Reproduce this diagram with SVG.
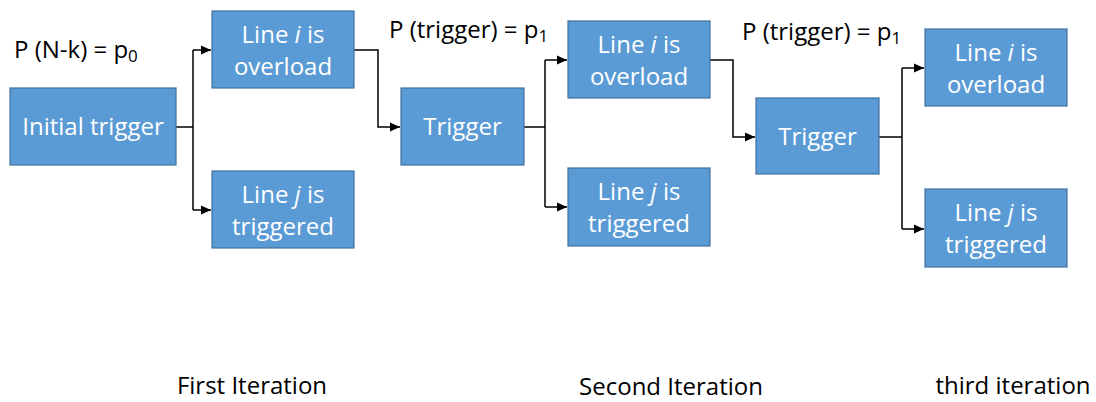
<svg xmlns="http://www.w3.org/2000/svg" width="1096" height="402" viewBox="0 0 1096 402">
<style>
.box{fill:#5B9BD5;stroke:#41719C;stroke-width:1.2}
.bt{font-family:"Open Sans","Liberation Sans",sans-serif;font-size:24px;fill:#fff;text-anchor:middle}
.lbl{font-family:"Open Sans","Liberation Sans",sans-serif;font-size:24px;fill:#000}
.c{fill:none;stroke:#000;stroke-width:1.5}
</style>
<defs>
<marker id="ah" markerWidth="11" markerHeight="11" refX="10" refY="5.5" orient="auto" markerUnits="userSpaceOnUse">
<path d="M0,1 L10,5.5 L0,10 Z" fill="#000"/>
</marker>
</defs>
<rect width="1096" height="402" fill="#fff"/>
<g id="connectors">
<path class="c" d="M176,127 H193"/>
<path class="c" d="M193,50 V210"/>
<path class="c" d="M193,50 H211" marker-end="url(#ah)"/>
<path class="c" d="M193,210 H211" marker-end="url(#ah)"/>
<path class="c" d="M354,50 H378 V127 H400" marker-end="url(#ah)"/>
<path class="c" d="M524,127 H545"/>
<path class="c" d="M545,60 V207"/>
<path class="c" d="M545,60 H567" marker-end="url(#ah)"/>
<path class="c" d="M545,207 H567" marker-end="url(#ah)"/>
<path class="c" d="M710,60 H733 V137 H755" marker-end="url(#ah)"/>
<path class="c" d="M879,137 H902"/>
<path class="c" d="M902,68 V229"/>
<path class="c" d="M902,68 H924" marker-end="url(#ah)"/>
<path class="c" d="M902,229 H924" marker-end="url(#ah)"/>
</g>
<g id="initial">
<rect class="box" x="10" y="88" width="166" height="77"/>
<text class="bt" x="93" y="135">Initial trigger</text>
</g>
<g id="line-i-1">
<rect class="box" x="212" y="11" width="142" height="77"/>
<text class="bt" x="283" y="43">Line <tspan font-style="italic">i</tspan> is</text>
<text class="bt" x="283" y="75">overload</text>
</g>
<g id="line-j-1">
<rect class="box" x="212" y="171" width="142" height="77"/>
<text class="bt" x="283" y="203">Line <tspan font-style="italic">j</tspan> is</text>
<text class="bt" x="283" y="235">triggered</text>
</g>
<g id="trigger-2">
<rect class="box" x="401" y="88" width="123" height="77"/>
<text class="bt" x="462.5" y="135">Trigger</text>
</g>
<g id="line-i-2">
<rect class="box" x="568" y="21" width="142" height="77"/>
<text class="bt" x="639" y="53">Line <tspan font-style="italic">i</tspan> is</text>
<text class="bt" x="639" y="85">overload</text>
</g>
<g id="line-j-2">
<rect class="box" x="568" y="168" width="142" height="78"/>
<text class="bt" x="639" y="200">Line <tspan font-style="italic">j</tspan> is</text>
<text class="bt" x="639" y="232">triggered</text>
</g>
<g id="trigger-3">
<rect class="box" x="756" y="98" width="123" height="76"/>
<text class="bt" x="817.5" y="145">Trigger</text>
</g>
<g id="line-i-3">
<rect class="box" x="925" y="29" width="142" height="77"/>
<text class="bt" x="996" y="61">Line <tspan font-style="italic">i</tspan> is</text>
<text class="bt" x="996" y="93">overload</text>
</g>
<g id="line-j-3">
<rect class="box" x="925" y="189" width="142" height="78"/>
<text class="bt" x="996" y="221">Line <tspan font-style="italic">j</tspan> is</text>
<text class="bt" x="996" y="253">triggered</text>
</g>
<g id="labels">
<text class="lbl" x="14" y="58">P (N-k) = p<tspan font-size="17" dy="4">0</tspan></text>
<text class="lbl" x="389" y="38">P (trigger) = p<tspan font-size="17" dy="4">1</tspan></text>
<text class="lbl" x="742" y="40">P (trigger) = p<tspan font-size="17" dy="4">1</tspan></text>
<text class="lbl" x="252" y="394" text-anchor="middle">First Iteration</text>
<text class="lbl" x="671" y="395" text-anchor="middle">Second Iteration</text>
<text class="lbl" x="1013" y="394" text-anchor="middle">third iteration</text>
</g>
</svg>
